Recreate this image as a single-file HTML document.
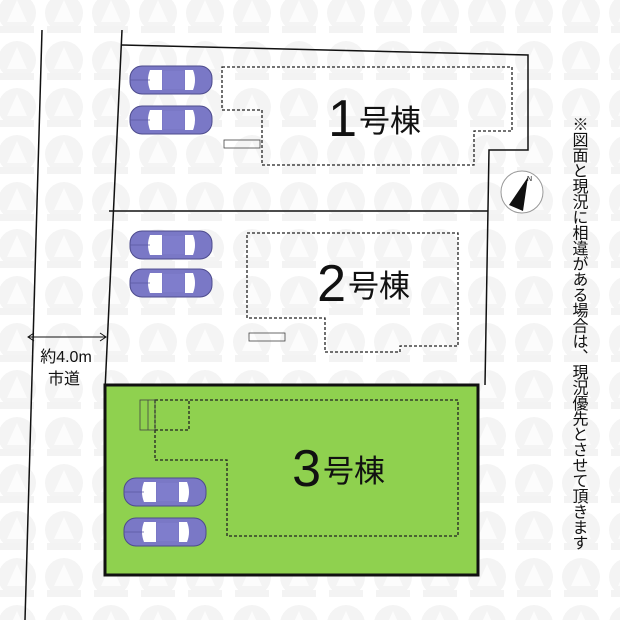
<!DOCTYPE html>
<html><head><meta charset="utf-8"><style>
body{margin:0;background:#fff}
svg{display:block}
text{font-family:"Liberation Sans","Noto Sans CJK JP",sans-serif}
</style></head><body>
<svg width="620" height="620" viewBox="0 0 620 620" xmlns="http://www.w3.org/2000/svg">
<defs>
<pattern id="bg" width="47" height="47" patternUnits="userSpaceOnUse" x="-6" y="-10">
<circle cx="23" cy="23" r="19" fill="#f4f4f4"/>
<polygon points="23,10 13,32 33,32" fill="#fcfcfc"/>
<rect x="6" y="36" width="34" height="7" fill="#f3f3f3"/>
</pattern>
<g id="car">
<rect x="0" y="2" width="82" height="28" rx="12" fill="#7a78c6" stroke="#4d4b8c" stroke-width="1"/>
<path d="M20,6 h12 v20 h-12 q-4,-10 0,-20z" fill="#fff"/>
<path d="M55,6 h8 q4,10 0,20 h-8z" fill="#fff"/>
<rect x="33" y="7" width="21" height="18" fill="#7f7dcc"/>
<line x1="0" y1="16" x2="20" y2="16" stroke="#5b59a0" stroke-width="0.8"/>
</g>
</defs>
<rect width="620" height="620" fill="url(#bg)"/>
<line x1="42" y1="30" x2="25" y2="620" stroke="#111" stroke-width="1.5"/>
<line x1="122" y1="30" x2="105" y2="390" stroke="#111" stroke-width="1.5"/>
<line x1="28" y1="337" x2="106" y2="337" stroke="#111" stroke-width="1"/>
<polyline points="34,333 28,337 34,341" fill="none" stroke="#111"/>
<polyline points="100,333 106,337 100,341" fill="none" stroke="#111"/>
<text x="66" y="362" font-size="16" text-anchor="middle" fill="#111">約4.0m</text>
<text x="64" y="384" font-size="16" text-anchor="middle" fill="#111">市道</text>
<polyline points="121,45 528,55 528,150 489,150 485,385" fill="none" stroke="#111" stroke-width="1.5"/>
<line x1="109" y1="211" x2="488" y2="211" stroke="#111" stroke-width="1.5"/>
<rect x="105" y="385" width="373" height="190" fill="#8fd14f" stroke="#111" stroke-width="3"/>
<g fill="none" stroke="#222" stroke-width="1.3" stroke-dasharray="3,2">
<polygon points="222,67 512,67 512,131 474,131 474,165 262,165 262,110 222,110"/>
<polygon points="247,233 458,233 458,346 400,346 400,352 325,352 325,318 247,318"/>
<polygon points="155,400 458,400 458,536 227,536 227,460 155,460"/>
<polyline points="155,430 189,430 189,400"/>
</g>
<g fill="none" stroke="#444" stroke-width="0.8">
<rect x="224" y="140" width="36" height="8"/>
<rect x="249" y="333" width="36" height="8"/>
<rect x="140" y="400" width="15" height="30"/><line x1="148" y1="400" x2="148" y2="430"/>
</g>
<g fill="#111">
<text x="357" y="136" font-size="52" text-anchor="end">1</text>
<text x="359" y="132" font-size="31">号棟</text>
<text x="346" y="301" font-size="52" text-anchor="end">2</text>
<text x="348" y="297" font-size="31">号棟</text>
<text x="321" y="486" font-size="52" text-anchor="end">3</text>
<text x="323" y="482" font-size="31">号棟</text>
</g>
<use href="#car" x="130" y="64"/><use href="#car" x="130" y="104"/>
<use href="#car" x="130" y="229"/><use href="#car" x="130" y="267"/>
<use href="#car" x="124" y="476"/><use href="#car" x="124" y="516"/>
<circle cx="522" cy="192" r="21" fill="#fff" stroke="#999" stroke-width="1"/>
<polygon points="528,177 509,205 523,211" fill="#111"/>
<text x="527" y="181" font-size="7" fill="#111">N</text>
<text x="578" y="116" font-size="16" fill="#111" style="writing-mode:vertical-rl" letter-spacing="-0.5">※図面と現況に相違がある場合は︑現況優先とさせて頂きます</text>
</svg>
</body></html>
